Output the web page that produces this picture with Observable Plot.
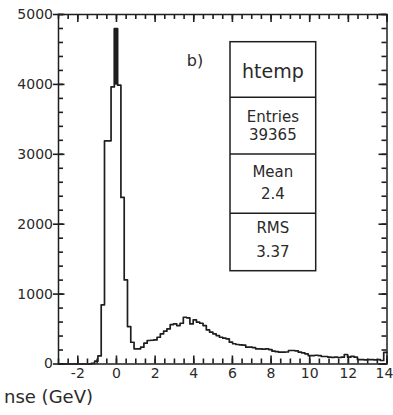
<!DOCTYPE html>
<html>
<head>
<meta charset="utf-8">
<script src="https://cdn.jsdelivr.net/npm/d3@7"></script>
<script src="https://cdn.jsdelivr.net/npm/@observablehq/plot@0.6"></script>
<style>
  html, body { margin: 0; padding: 0; background: #fff; }
  #chart svg { display: block; }
</style>
</head>
<body>
<div id="chart"></div>
<script>
// ---- data ----
const xStart = -3;
const xEnd = 14;
// 100 bins between xStart and xEnd (ROOT default binning of htemp)
const counts = [
  0, 0, 0, 0, 0, 0, 0, 0, 0, 0,
  10, 40, 115, 846, 3193, 3193, 3964, 4797, 3989, 2383,
  1203, 536, 311, 217, 217, 240, 298, 336, 340, 345,
  383, 431, 469, 502, 564, 574, 550, 583, 669, 660,
  574, 631, 598, 583, 550, 488, 455, 431, 407, 383,
  370, 360, 312, 290, 279, 275, 270, 240, 240, 235,
  217, 217, 212, 217, 207, 183, 176, 169, 169, 172,
  193, 193, 188, 169, 160, 145, 121, 121, 125, 121,
  107, 107, 98, 95, 98, 93, 98, 136, 98, 110,
  98, 64, 64, 60, 64, 64, 58, 64, 50, 165
];
const xTickLabels = [-2, 0, 2, 4, 6, 8, 10, 12, 14];
const yTickLabels = [0, 1000, 2000, 3000, 4000, 5000];
const panelLabel = "b)";
const statsName = "htemp";
const statsRows = [["Entries", "39365"], ["Mean", "2.4"], ["RMS", "3.37"]];
const xTitle = "nse (GeV)";

// ---- derived tables ----
const binWidth = (xEnd - xStart) / counts.length;
const bins = counts.map((c, i) => ({x0: xStart + i * binWidth, x1: xStart + (i + 1) * binWidth, count: c}));
const outline = bins.map(b => ({x: b.x0, y: b.count})).concat([{x: xEnd, y: counts[counts.length - 1]}]);
const iMax = d3.maxIndex(counts);
const spike = [{x0: bins[iMax].x0, x1: bins[iMax].x1, base: Math.max(counts[iMax - 1], counts[iMax + 1]), count: counts[iMax]}];
const xMinor = d3.range(xStart, xEnd + 1e-9, 0.5);
const yMinor = d3.range(0, 5000 + 1e-9, 200);
const yTop = yTickLabels[yTickLabels.length - 1];

const W = 393, H = 415;
const mL = 58, mR = 6.5, mT = 14, mB = 51.5;
const plotW = W - mL - mR, plotH = H - mT - mB;
const px = (xEnd - xStart) / plotW;   // data units per pixel (x)
const py = yTop / plotH;              // data units per pixel (y)
const ink = "#1e1e1e";
const textInk = "#2a2a2a";
const font = "DejaVu Sans";
const tk = {stroke: ink, strokeWidth: 1.6};

const chart = Plot.plot({
  width: W,
  height: H,
  marginLeft: mL,
  marginRight: mR,
  marginTop: mT,
  marginBottom: mB,
  style: {fontFamily: font, fontSize: "14px", color: textInk, background: "#fff"},
  x: {domain: [xStart, xEnd], axis: null},
  y: {domain: [0, yTop], axis: null},
  marks: [
    // histogram outline
    Plot.line(outline, {x: "x", y: "y", curve: "step-after", stroke: ink, strokeWidth: 1.7}),
    Plot.rectY(spike, {x1: "x0", x2: "x1", y1: "base", y2: "count", fill: ink}),
    // bottom ticks (inward)
    Plot.ruleX(xMinor, {x: d => d, y1: 0, y2: 5 * py, ...tk}),
    Plot.ruleX(xTickLabels, {x: d => d, y1: 0, y2: 8 * py, ...tk}),
    // top ticks (inward)
    Plot.ruleX(xMinor, {x: d => d, y1: yTop - 5 * py, y2: yTop, ...tk}),
    Plot.ruleX(xTickLabels, {x: d => d, y1: yTop - 8 * py, y2: yTop, ...tk}),
    // left ticks
    Plot.ruleY(yMinor, {y: d => d, x1: xStart, x2: xStart + 5 * px, ...tk}),
    Plot.ruleY(yTickLabels, {y: d => d, x1: xStart - 5 * px, x2: xStart + 6.5 * px, ...tk}),
    // right ticks
    Plot.ruleY(yMinor, {y: d => d, x1: xEnd - 5 * px, x2: xEnd, ...tk}),
    Plot.ruleY(yTickLabels, {y: d => d, x1: xEnd - 8 * px, x2: xEnd, ...tk}),
    // tick labels
    Plot.text(xTickLabels.slice(0, -1), {x: d => d, text: d => String(d), frameAnchor: "bottom", dy: 13.5, fontSize: 14, fill: textInk}),
    Plot.text(xTickLabels.slice(-1), {x: d => d, text: d => String(d), frameAnchor: "bottom", dy: 13.5, dx: -2.5, fontSize: 14, fill: textInk}),
    Plot.text(yTickLabels, {y: d => d, text: d => String(d), frameAnchor: "left", dx: -5.5, textAnchor: "end", fontSize: 14, fill: textInk}),
    Plot.frame({stroke: ink, strokeWidth: 1.5})
  ]
});

document.getElementById("chart").appendChild(chart);

// panel label, stats box and axis title
const svg = d3.select(chart);
svg.append("text")
  .attr("x", 195).attr("y", 66)
  .attr("font-family", font).attr("font-size", 16).attr("fill", textInk)
  .text(panelLabel);

const box = svg.append("g").attr("font-family", font).attr("fill", textInk).attr("text-anchor", "middle");
const bx = 230, bw = 85.7, by = 41.7, bh = 229;
const cx = bx + bw / 2;
box.append("rect").attr("x", bx).attr("y", by).attr("width", bw).attr("height", bh)
  .attr("fill", "#fff").attr("stroke", ink).attr("stroke-width", 1.5);
[97.3, 154, 213.3].forEach(yy => {
  box.append("line").attr("x1", bx).attr("x2", bx + bw).attr("y1", yy).attr("y2", yy)
    .attr("stroke", ink).attr("stroke-width", 1.5);
});
box.append("text").attr("x", cx).attr("y", 77.5).attr("font-size", 19).text(statsName);
const rowBase = [[121.5, 140], [176.5, 199], [233, 256.5]];
statsRows.forEach((r, i) => {
  box.append("text").attr("x", cx).attr("y", rowBase[i][0]).attr("font-size", 15).text(r[0]);
  box.append("text").attr("x", cx).attr("y", rowBase[i][1]).attr("font-size", 15).text(r[1]);
});

svg.append("text")
  .attr("x", 93).attr("y", 403)
  .attr("text-anchor", "end")
  .attr("font-family", font).attr("font-size", 18).attr("fill", textInk)
  .text(xTitle);
</script>
</body>
</html>
